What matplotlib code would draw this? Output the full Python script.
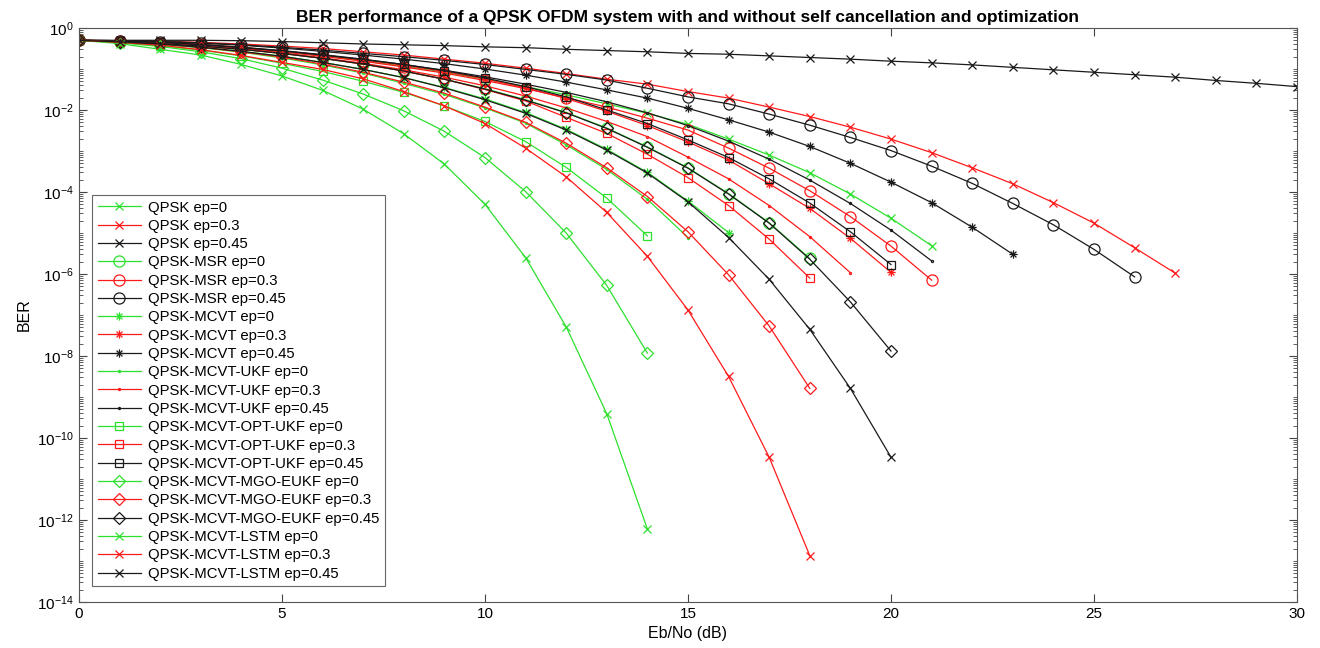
import numpy as np
import matplotlib
matplotlib.use("Agg")
import matplotlib.pyplot as plt
from matplotlib.path import Path
from matplotlib.ticker import FixedLocator, LogLocator, NullFormatter

plt.rcParams['font.family'] = ['Liberation Sans', 'DejaVu Sans']

# log10(BER), one value per dB from 0 dB
qpsk_0 = [-0.30, -0.32, -0.36, -0.42, -0.49, -0.58, -0.68, -0.80, -0.93, -1.08, -1.25,
          -1.43, -1.63, -1.85, -2.08, -2.35, -2.71, -3.10, -3.53, -4.05, -4.64, -5.31]
qpsk_03 = [-0.30, -0.31, -0.32, -0.35, -0.39, -0.44, -0.50, -0.58, -0.66, -0.76, -0.86,
           -0.98, -1.11, -1.25, -1.37, -1.55, -1.71, -1.93, -2.16, -2.42, -2.71, -3.04,
           -3.41, -3.80, -4.26, -4.76, -5.36, -5.98]
qpsk_045 = [-0.30, -0.30, -0.30, -0.30, -0.31, -0.33, -0.36, -0.39, -0.41, -0.43, -0.46,
            -0.48, -0.52, -0.55, -0.58, -0.62, -0.64, -0.68, -0.72, -0.76, -0.81, -0.85,
            -0.90, -0.96, -1.02, -1.08, -1.14, -1.20, -1.28, -1.35, -1.43]

msr_0 = [-0.30, -0.33, -0.38, -0.44, -0.52, -0.62, -0.74, -0.88, -1.05, -1.25, -1.48,
         -1.75, -2.06, -2.44, -2.90, -3.41, -4.04, -4.75, -5.62]
msr_03 = [-0.30, -0.32, -0.36, -0.42, -0.49, -0.58, -0.69, -0.81, -0.95, -1.10, -1.28,
          -1.48, -1.70, -1.93, -2.20, -2.49, -2.93, -3.42, -3.97, -4.60, -5.32, -6.15]
msr_045 = [-0.30, -0.31, -0.33, -0.36, -0.41, -0.47, -0.54, -0.62, -0.70, -0.79, -0.89,
           -1.01, -1.13, -1.27, -1.47, -1.68, -1.85, -2.10, -2.37, -2.67, -2.99, -3.37,
           -3.79, -4.28, -4.80, -5.40, -6.07]

mcvt_0 = [-0.30, -0.34, -0.39, -0.47, -0.57, -0.69, -0.84, -1.01, -1.21, -1.45, -1.73,
          -2.06, -2.47, -2.96, -3.52, -4.22, -4.99]
mcvt_03 = [-0.30, -0.32, -0.35, -0.40, -0.47, -0.56, -0.66, -0.78, -0.91, -1.06, -1.24,
           -1.46, -1.72, -2.03, -2.38, -2.78, -3.22, -3.80, -4.40, -5.13, -5.96]
mcvt_045 = [-0.30, -0.31, -0.33, -0.37, -0.42, -0.49, -0.57, -0.66, -0.76, -0.87, -1.00,
            -1.15, -1.32, -1.51, -1.71, -1.96, -2.24, -2.54, -2.89, -3.30, -3.76, -4.26,
            -4.86, -5.52]

ukf_0 = [-0.30, -0.34, -0.40, -0.48, -0.59, -0.73, -0.90, -1.10, -1.35, -1.62, -1.95,
         -2.32, -2.85, -3.45, -4.18, -5.11]
ukf_03 = [-0.30, -0.33, -0.37, -0.43, -0.51, -0.61, -0.73, -0.86, -1.02, -1.20, -1.41,
          -1.66, -1.95, -2.28, -2.65, -3.15, -3.68, -4.33, -5.09, -5.97]
ukf_045 = [-0.30, -0.32, -0.35, -0.41, -0.48, -0.56, -0.66, -0.77, -0.89, -1.03, -1.19,
           -1.37, -1.57, -1.80, -2.07, -2.38, -2.76, -3.20, -3.71, -4.28, -4.93, -5.68]

opt_0 = [-0.30, -0.35, -0.43, -0.54, -0.68, -0.86, -1.06, -1.30, -1.57, -1.90, -2.28,
         -2.77, -3.40, -4.15, -5.07]
opt_03 = [-0.30, -0.33, -0.38, -0.44, -0.52, -0.62, -0.74, -0.88, -1.05, -1.25, -1.50,
          -1.78, -2.18, -2.57, -3.08, -3.65, -4.33, -5.15, -6.10]
opt_045 = [-0.30, -0.32, -0.35, -0.40, -0.47, -0.55, -0.65, -0.76, -0.89, -1.04, -1.22,
           -1.43, -1.68, -2.00, -2.33, -2.73, -3.16, -3.68, -4.27, -4.97, -5.77]

mgo_0 = [-0.30, -0.36, -0.45, -0.58, -0.75, -0.98, -1.27, -1.61, -2.02, -2.52, -3.16,
         -3.99, -5.00, -6.28, -7.93]
mgo_03 = [-0.30, -0.34, -0.39, -0.47, -0.58, -0.71, -0.88, -1.08, -1.32, -1.59, -1.93,
          -2.30, -2.81, -3.41, -4.11, -4.97, -6.02, -7.27, -8.79]
mgo_045 = [-0.30, -0.33, -0.38, -0.44, -0.52, -0.62, -0.74, -0.88, -1.05, -1.25, -1.49,
           -1.76, -2.07, -2.45, -2.91, -3.42, -4.05, -4.76, -5.64, -6.68, -7.88]

lstm_0 = [-0.30, -0.38, -0.52, -0.66, -0.89, -1.17, -1.52, -1.98, -2.58, -3.32, -4.30,
          -5.60, -7.29, -9.41, -12.22]
lstm_03 = [-0.30, -0.35, -0.42, -0.53, -0.67, -0.84, -1.01, -1.24, -1.55, -1.90, -2.33,
           -2.93, -3.63, -4.50, -5.57, -6.88, -8.50, -10.47, -12.87]
lstm_045 = [-0.30, -0.34, -0.39, -0.47, -0.57, -0.69, -0.84, -1.01, -1.21, -1.46, -1.75,
            -2.08, -2.49, -2.98, -3.54, -4.24, -5.11, -6.13, -7.35, -8.79, -10.47]

GREEN = '#2ee02e'
RED = '#ff1a1a'
BLACK = '#1a1a1a'

# MATLAB style asterisk: plus and cross on top of each other
d = 0.7071
ASTER = Path([(-1, 0), (1, 0), (0, -1), (0, 1), (-d, -d), (d, d), (-d, d), (d, -d)],
             [Path.MOVETO, Path.LINETO] * 4)

series = [
    ('QPSK ep=0', qpsk_0, GREEN, 'x'), ('QPSK ep=0.3', qpsk_03, RED, 'x'),
    ('QPSK ep=0.45', qpsk_045, BLACK, 'x'),
    ('QPSK-MSR ep=0', msr_0, GREEN, 'o'), ('QPSK-MSR ep=0.3', msr_03, RED, 'o'),
    ('QPSK-MSR ep=0.45', msr_045, BLACK, 'o'),
    ('QPSK-MCVT ep=0', mcvt_0, GREEN, '*'), ('QPSK-MCVT ep=0.3', mcvt_03, RED, '*'),
    ('QPSK-MCVT ep=0.45', mcvt_045, BLACK, '*'),
    ('QPSK-MCVT-UKF ep=0', ukf_0, GREEN, '.'), ('QPSK-MCVT-UKF ep=0.3', ukf_03, RED, '.'),
    ('QPSK-MCVT-UKF ep=0.45', ukf_045, BLACK, '.'),
    ('QPSK-MCVT-OPT-UKF ep=0', opt_0, GREEN, 's'), ('QPSK-MCVT-OPT-UKF ep=0.3', opt_03, RED, 's'),
    ('QPSK-MCVT-OPT-UKF ep=0.45', opt_045, BLACK, 's'),
    ('QPSK-MCVT-MGO-EUKF ep=0', mgo_0, GREEN, 'D'), ('QPSK-MCVT-MGO-EUKF ep=0.3', mgo_03, RED, 'D'),
    ('QPSK-MCVT-MGO-EUKF ep=0.45', mgo_045, BLACK, 'D'),
    ('QPSK-MCVT-LSTM ep=0', lstm_0, GREEN, 'x'), ('QPSK-MCVT-LSTM ep=0.3', lstm_03, RED, 'x'),
    ('QPSK-MCVT-LSTM ep=0.45', lstm_045, BLACK, 'x'),
]
msize = {'x': 6, 'o': 8, '*': 6, '.': 3, 's': 6, 'D': 6}

fig = plt.figure(figsize=(13.2, 6.48), dpi=100)
ax = fig.add_axes([0.0598, 0.071, 0.9228, 0.8858])

for name, vals, col, mk in series:
    snr = np.arange(len(vals))
    ber = 10.0 ** np.array(vals)
    ax.semilogy(snr, ber, color=col, marker=ASTER if mk == '*' else mk, ms=msize[mk],
                mfc='none', mew=0.9, lw=0.9, label=name)

ax.set_xlim(0, 30)
ax.set_ylim(1e-14, 1)
ax.set_xticks(np.arange(0, 31, 5))
ax.yaxis.set_major_locator(FixedLocator([10.0 ** -k for k in range(0, 15, 2)]))
ax.yaxis.set_minor_locator(LogLocator(base=10, subs=np.arange(1, 10), numticks=40))
ax.yaxis.set_minor_formatter(NullFormatter())
ax.tick_params(which='both', direction='in', top=True, right=True, labelsize=11,
               color='#444444')
ax.tick_params(which='major', length=6)
ax.tick_params(which='minor', length=3)
for sp in ax.spines.values():
    sp.set_color('#555555')
    sp.set_linewidth(0.8)

ax.set_xlabel('Eb/No (dB)', fontsize=11.5)
ax.set_ylabel('BER', fontsize=11.5)
ax.set_title('BER performance of a QPSK OFDM system with and without self cancellation and optimization',
             fontsize=12.5, fontweight='bold', pad=4)

leg = ax.legend(loc='lower left', bbox_to_anchor=(0.011, 0.028), borderaxespad=0,
                fontsize=10.7, handlelength=2.9, labelspacing=0.29, fancybox=False,
                edgecolor='#666666', framealpha=1, borderpad=0.35, handletextpad=0.5)
leg.get_frame().set_linewidth(0.8)

fig.savefig('out.png', dpi=100)
